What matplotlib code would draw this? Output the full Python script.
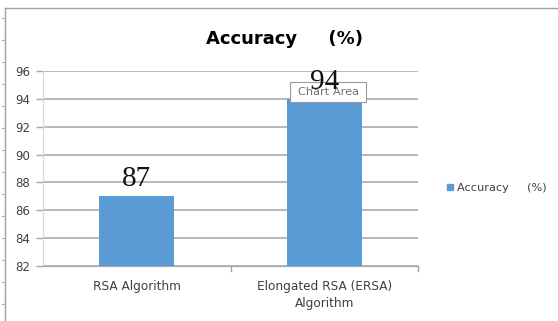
import matplotlib
matplotlib.use("Agg")
import matplotlib.pyplot as plt
from matplotlib.lines import Line2D
from matplotlib.patches import Rectangle

categories = ["RSA Algorithm", "Elongated RSA (ERSA)\nAlgorithm"]
accuracy = [87, 94]
y_ticks = [82, 84, 86, 88, 90, 92, 94, 96]
series_name = "Accuracy     (%)"
chart_title = "Accuracy     (%)"

W, H = 558, 321
fig = plt.figure(figsize=(W / 100, H / 100), dpi=100)
fig.patch.set_facecolor("white")

sans = ["DejaVu Sans"]
serif = ["Liberation Serif", "DejaVu Serif"]
bar_color = "#5B9BD5"
grid_color = "#A6A6A6"
text_color = "#404040"

# plot area in pixel coordinates
left, right, top, bottom = 43, 418, 71, 266
ax = fig.add_axes([left / W, 1 - bottom / H, (right - left) / W, (bottom - top) / H])

x = list(range(len(categories)))
ax.bar(x, accuracy, width=0.4, color=bar_color, zorder=3)
ax.set_xlim(-0.5, len(categories) - 0.5)
ax.set_ylim(y_ticks[0], y_ticks[-1])
ax.set_yticks(y_ticks)
ax.set_yticklabels([str(v) for v in y_ticks], fontsize=8.5, color=text_color, family=sans)
ax.set_xticks(x)
ax.set_xticklabels(categories, fontsize=8.7, color=text_color, family=sans, linespacing=1.45)
ax.tick_params(axis="x", length=0, pad=10)
ax.tick_params(axis="y", length=5, color=grid_color, width=1, pad=4)

# category separators on the horizontal axis
for b in [0.5, 1.5]:
    ax.plot([b, b], [0, -0.025], transform=ax.get_xaxis_transform(), color=grid_color,
            lw=1, clip_on=False)

ax.yaxis.grid(True, color=grid_color, lw=1.1, zorder=0)
for s in ["top", "right"]:
    ax.spines[s].set_visible(False)
ax.spines["left"].set_color("#D9D9D9")
ax.spines["bottom"].set_color(grid_color)
ax.set_facecolor("white")

# "Chart Area" hover tip, drawn beneath the value labels
tip = Rectangle((290 / W, 1 - 102 / H), 76 / W, 20 / H, transform=fig.transFigure,
                facecolor="white", edgecolor="#9A9A9A", lw=0.8, zorder=5, clip_on=False)
ax.add_patch(tip)
ax.text(329 / W, 1 - 92 / H, "Chart Area", transform=fig.transFigure, ha="center",
        va="center", fontsize=8.2, color="#707070", family=sans, zorder=6, clip_on=False)

# value labels
for xi, v in zip(x, accuracy):
    ax.annotate(str(v), (xi, v), xytext=(0, 3), textcoords="offset points",
                ha="center", va="bottom", fontsize=21, family=serif, color="#111111",
                zorder=7, annotation_clip=False)

fig.text(284 / W, 1 - 39 / H, chart_title, ha="center", va="center", fontsize=13,
         fontweight="bold", family=sans, color="black")

handle = Line2D([], [], marker="s", linestyle="none", markersize=5,
                markerfacecolor=bar_color, markeredgecolor=bar_color)
fig.legend([handle], [series_name], loc="center left", bbox_to_anchor=(434 / W, 1 - 188 / H),
           frameon=False, prop={"family": sans, "size": 8.2}, handletextpad=0.1,
           labelcolor=text_color, handlelength=1.0)

# page border lines
fig.add_artist(Line2D([5 / W, 1], [1 - 8 / H] * 2, transform=fig.transFigure,
                      color="#A0A0A0", lw=1))
fig.add_artist(Line2D([5 / W] * 2, [0, 1 - 8 / H], transform=fig.transFigure,
                      color="#A0A0A0", lw=1))
for py in range(18, H, 22):
    fig.add_artist(Line2D([2 / W, 5 / W], [1 - py / H] * 2, transform=fig.transFigure,
                          color="#B0B0B0", lw=0.8))

fig.savefig("out.png", dpi=100, facecolor="white")
